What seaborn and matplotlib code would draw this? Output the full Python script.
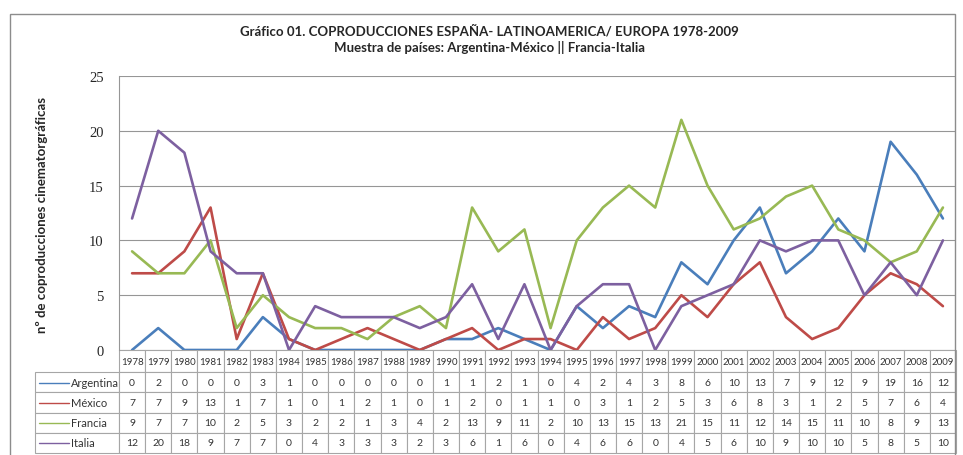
import matplotlib
matplotlib.use("Agg")
import pandas as pd
import matplotlib.pyplot as plt
import seaborn as sns
from matplotlib.patches import Rectangle

# Coproducciones España - Latinoamérica / Europa, 1978-2009
years = list(range(1978, 2010))
paises = ["Argentina", "México", "Francia", "Italia"]
argentina = [0, 2, 0, 0, 0, 3, 1, 0, 0, 0, 0, 0, 1, 1, 2, 1, 0, 4, 2, 4, 3, 8, 6, 10, 13, 7, 9, 12, 9, 19, 16, 12]
mexico = [7, 7, 9, 13, 1, 7, 1, 0, 1, 2, 1, 0, 1, 2, 0, 1, 1, 0, 3, 1, 2, 5, 3, 6, 8, 3, 1, 2, 5, 7, 6, 4]
francia = [9, 7, 7, 10, 2, 5, 3, 2, 2, 1, 3, 4, 2, 13, 9, 11, 2, 10, 13, 15, 13, 21, 15, 11, 12, 14, 15, 11, 10, 8, 9, 13]
italia = [12, 20, 18, 9, 7, 7, 0, 4, 3, 3, 3, 2, 3, 6, 1, 6, 0, 4, 6, 6, 0, 4, 5, 6, 10, 9, 10, 10, 5, 8, 5, 10]
series = [argentina, mexico, francia, italia]
colores = ["#4A7EBB", "#BE4B48", "#98B954", "#7D60A0"]

sns.set_style("white")
plt.rcParams['font.family'] = ['Lato', 'DejaVu Sans']

rows = []
for pais, vals in zip(paises, series):
    for i, (y, v) in enumerate(zip(years, vals)):
        rows.append({"pos": i, "anio": y, "pais": pais, "valor": v})
df = pd.DataFrame(rows)

fig = plt.figure(figsize=(9.63, 4.56), dpi=100)
ax = fig.add_axes([119 / 963, 1 - 351 / 456, 837 / 963, 274 / 456])

sns.lineplot(data=df, x="pos", y="valor", hue="pais", hue_order=paises,
             palette=dict(zip(paises, colores)), linewidth=1.9, legend=False, ax=ax)

ax.set_xlim(-0.5, len(years) - 0.5)
ax.set_ylim(0, 25)
ax.set_yticks([0, 5, 10, 15, 20, 25])
ax.set_yticklabels(["0", "5", "10", "15", "20", "25"], family="Liberation Serif", fontsize=10.5)
ax.set_xticks([])
ax.set_xlabel("")
ax.set_ylabel("")
ax.grid(axis="y", color="#969696", linewidth=0.8)
for s in ["top", "right", "bottom"]:
    ax.spines[s].set_visible(False)
ax.spines["left"].set_color("#969696")
ax.tick_params(axis="y", length=4, color="#969696", pad=7)

# tabla de datos
cell_text = [[""] + [str(v) for v in vals] for vals in series]
col_labels = [""] + [str(y) for y in years]
col_w = [84 / 837] + [1 / 32] * 32
tab = ax.table(cellText=cell_text, colLabels=col_labels, colWidths=col_w,
               cellLoc="center", bbox=[-84 / 837, -103 / 274, 921 / 837, 103 / 274])
tab.auto_set_font_size(False)
tab.set_fontsize(7.5)
for (r, c), cell in tab.get_celld().items():
    cell.set_edgecolor("#a6a6a6")
    cell.set_linewidth(0.8)
    cell.get_text().set_color("#333333")
    if r == 0:
        cell.set_height(cell.get_height() * 1.1)
        cell.get_text().set_fontsize(7)
        if c == 0:
            cell.visible_edges = "open"

# claves de la leyenda dentro de la tabla
row_h = 20 / 274
for k, (pais, col) in enumerate(zip(paises, colores)):
    yc = -(23 + row_h * 274 * k + 10) / 274
    ax.plot([-80 / 837, -50 / 837], [yc, yc], color=col, linewidth=1.0,
            transform=ax.transAxes, clip_on=False)
    ax.text(-48 / 837, yc, pais, transform=ax.transAxes, ha="left", va="center",
            fontsize=8, color="#333333")

fig.text(0.508, 1 - 31 / 456, "Gráfico 01. COPRODUCCIONES ESPAÑA- LATINOAMERICA/ EUROPA 1978-2009",
         ha="center", va="center", fontsize=9.5, fontweight="bold")
fig.text(0.508, 1 - 48 / 456, "Muestra de países: Argentina-México || Francia-Italia",
         ha="center", va="center", fontsize=9.5, fontweight="bold")
fig.text(42 / 963, 1 - 215 / 456, "nº de coproducciones cinematorgráficas",
         rotation=90, ha="center", va="center", fontsize=9.5, fontweight="bold")

fig.patches.append(Rectangle((10 / 963, -0.1), 945 / 963, 1.1 - 15 / 456, transform=fig.transFigure,
                             fill=False, edgecolor="#8c8c8c", linewidth=1))

fig.savefig("out.png", dpi=100)
